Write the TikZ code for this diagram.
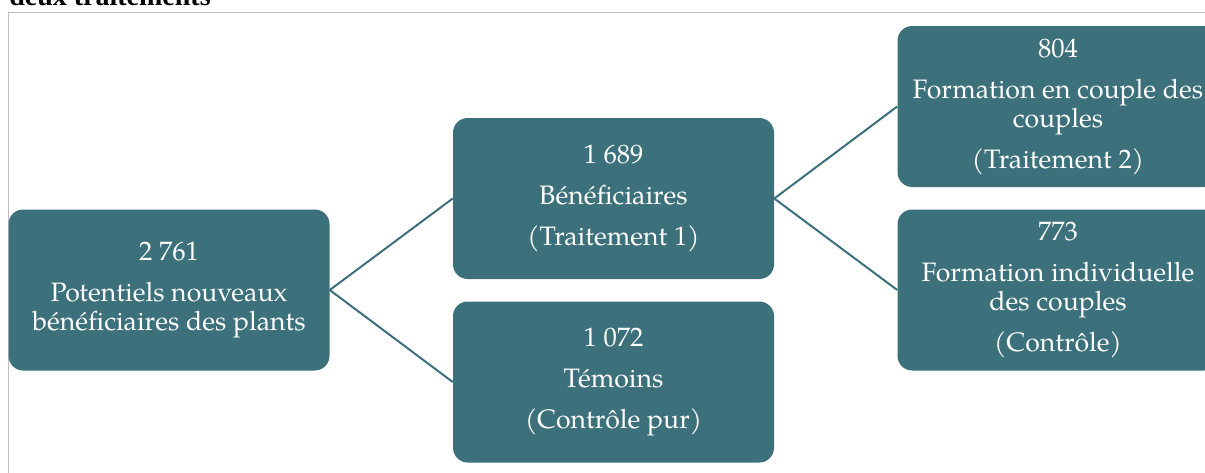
\documentclass[tikz,border=0pt]{standalone}
\usepackage{fontspec}
\setmainfont{TeX Gyre Pagella}
\newfontfamily\titlefont{Liberation Serif}
\usetikzlibrary{calc}
\definecolor{boxteal}{RGB}{60,112,122}
\definecolor{framegray}{RGB}{191,191,191}
\newcommand{\parskipline}{\\[9pt]}

\begin{document}
\begin{tikzpicture}[x=0.75pt,y=-0.75pt,
  box/.style={fill=boxteal,text=white,rounded corners=11pt,minimum width=240.75pt,
    minimum height=120.75pt,align=center,inner sep=0pt,font=\fontsize{20}{21.75}\selectfont,
    execute at begin node=\rule{0pt}{18.5pt}},
  link/.style={draw=boxteal,line width=1.5pt}]
  \useasboundingbox (0,0) rectangle (1205,472);
  \clip (0,0) rectangle (1205,472);
  \draw[framegray] (8,12) rectangle (1230,490);
  \node[anchor=base west,inner sep=0pt,font=\titlefont\bfseries\fontsize{21}{25}\selectfont] (T) at (9,5.7) {deux traitements};

  \node[box] (N0) at (169,290) {2 761\parskipline Potentiels nouveaux\\bénéficiaires des plants};
  \node[box] (N1) at ($(N0)+(444.5,-91.5)$) {1 689\parskipline Bénéficiaires\parskipline (Traitement 1)};
  \node[box] (N2) at ($(N1)+(0,183.5)$) {1 072\parskipline Témoins\parskipline (Contrôle pur)};
  \node[box] (N3) at ($(N1)+(444.5,-92)$) {804\parskipline Formation en couple des\\couples\parskipline (Traitement 2)};
  \node[box] (N4) at ($(N3)+(0,183.5)$) {773\parskipline Formation individuelle\\des couples\parskipline (Contrôle)};

  \path[link] (N0.east) edge (N1.west);
  \path[link] (N0.east) edge (N2.west);
  \path[link] (N1.east) edge (N3.west);
  \path[link] (N1.east) edge (N4.west);
\end{tikzpicture}
\end{document}
